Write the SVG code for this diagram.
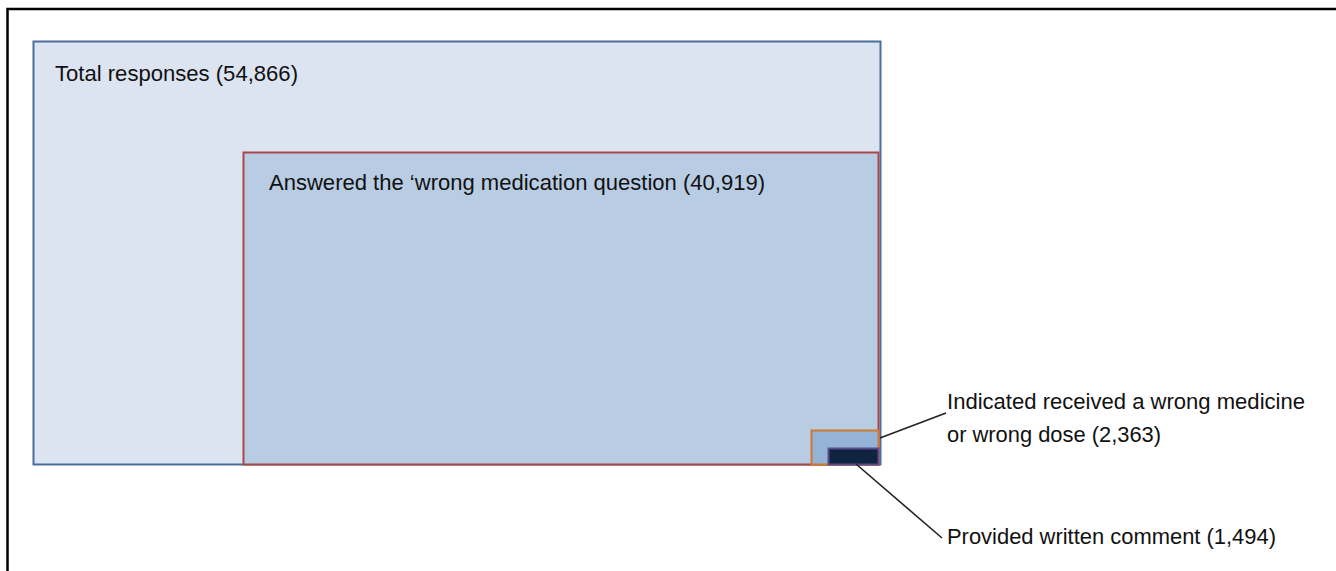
<svg xmlns="http://www.w3.org/2000/svg" width="1336" height="571" viewBox="0 0 1336 571">
<style>
.t{font-family:"Liberation Sans",Arial,sans-serif;font-size:22.5px;fill:#111}
.ln{stroke:#222;stroke-width:1.6;fill:none}
</style>
<rect width="1336" height="571" fill="#fff"/>
<path d="M7.5 571 V9 H1336" fill="none" stroke="#000" stroke-width="2.5"/>
<g id="total">
<rect x="33.5" y="41.5" width="847" height="423" fill="#dbe4f0" stroke="#4a6d9c" stroke-width="2"/>
<text class="t" x="55" y="81" textLength="243" lengthAdjust="spacingAndGlyphs">Total responses (54,866)</text>
</g>
<g id="answered">
<rect x="243.5" y="152.5" width="635" height="312" fill="#b8cce3" stroke="#a94848" stroke-width="2"/>
<text class="t" x="269" y="190" textLength="496" lengthAdjust="spacingAndGlyphs">Answered the ‘wrong medication question (40,919)</text>
</g>
<g id="indicated">
<rect x="811.5" y="430.5" width="67" height="34" fill="#95b3d7" stroke="#d0782c" stroke-width="2"/>
<text class="t" x="947" y="409" textLength="358" lengthAdjust="spacingAndGlyphs">Indicated received a wrong medicine</text>
<text class="t" x="947" y="442" textLength="214" lengthAdjust="spacingAndGlyphs">or wrong dose (2,363)</text>
</g>
<g id="comment">
<rect x="828.5" y="448.5" width="50" height="16" fill="#10243f" stroke="#5b4a8c" stroke-width="2"/>
<text class="t" x="947" y="544" textLength="329" lengthAdjust="spacingAndGlyphs">Provided written comment (1,494)</text>
</g>
<g id="connectors">
<line class="ln" x1="880" y1="438" x2="946" y2="413"/>
<line class="ln" x1="856" y1="464" x2="942" y2="538"/>
</g>
</svg>
